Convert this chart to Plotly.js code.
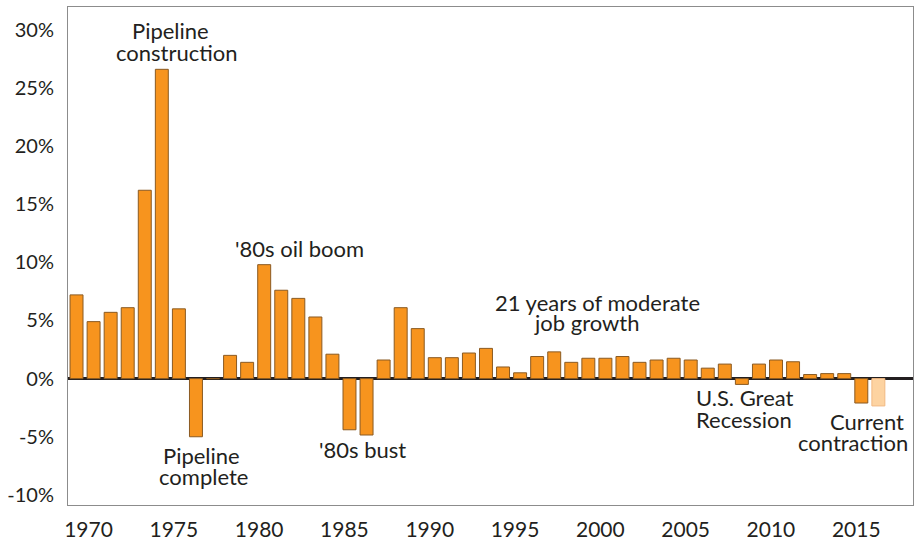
<!DOCTYPE html>
<html>
<head>
<meta charset="utf-8">
<script src="https://cdn.plot.ly/plotly-3.0.1.min.js"></script>
<style>
  html, body { margin: 0; padding: 0; background: #ffffff; }
  #chart { width: 915px; height: 543px; }
</style>
</head>
<body>
<div id="chart"></div>
<script>
// Annual employment growth, 1970-2017 (2017 = forecast)
const years = [1970,1971,1972,1973,1974,1975,1976,1977,1978,1979,
               1980,1981,1982,1983,1984,1985,1986,1987,1988,1989,
               1990,1991,1992,1993,1994,1995,1996,1997,1998,1999,
               2000,2001,2002,2003,2004,2005,2006,2007,2008,2009,
               2010,2011,2012,2013,2014,2015,2016,2017];
const growthPct = [7.2, 4.9, 5.7, 6.1, 16.2, 26.6, 6.0, -5.0, 0.0, 2.0,
                   1.4, 9.8, 7.6, 6.9, 5.3, 2.1, -4.4, -4.85, 1.6, 6.1,
                   4.3, 1.8, 1.8, 2.2, 2.6, 1.0, 0.5, 1.9, 2.3, 1.4,
                   1.75, 1.75, 1.9, 1.4, 1.6, 1.75, 1.6, 0.9, 1.25, -0.5,
                   1.25, 1.6, 1.45, 0.35, 0.43, 0.43, -2.1, -2.35];
const forecastYears = [2017];
const xTickYears = [1970,1975,1980,1985,1990,1995,2000,2005,2010,2015];
const yTickVals = [-10,-5,0,5,10,15,20,25,30];
const yTickText = ['-10%','-5%','0%','5%','10%','15%','20%','25%','30%'];

const fillColors = years.map(y => forecastYears.includes(y) ? '#FDD3A1' : '#F7941E');
const edgeColors = years.map(y => forecastYears.includes(y) ? '#F2B983' : '#8A5A22');

const trace = {
  type: 'bar',
  x: years,
  y: growthPct,
  marker: { color: fillColors, line: { color: edgeColors, width: 1 } },
  hoverinfo: 'x+y'
};

const FONT = 'Lato, "Open Sans", sans-serif';
const ink = '#231F20';
function note(text, x, y) {
  return { text: text, x: x, y: y, xref: 'x', yref: 'y', showarrow: false,
           xanchor: 'center', yanchor: 'middle',
           font: { family: FONT, size: 22, color: ink } };
}

const layout = {
  width: 915, height: 543,
  margin: { l: 68, r: 2, t: 7, b: 38, pad: 0 },
  paper_bgcolor: '#ffffff', plot_bgcolor: '#ffffff',
  showlegend: false,
  bargap: 0.24,
  xaxis: {
    type: 'linear',
    range: [1969.5, 2019.03],
    tickmode: 'array',
    tickvals: xTickYears,
    ticktext: xTickYears.map(String),
    ticks: '',
    ticklabelshift: 12,
    ticklabelstandoff: 6,
    showgrid: false, zeroline: false,
    showline: true, mirror: true, linecolor: '#8C8C8C', linewidth: 1,
    tickfont: { family: FONT, size: 21, color: ink }
  },
  yaxis: {
    range: [-10.87, 31.96],
    tickmode: 'array',
    tickvals: yTickVals,
    ticktext: yTickText,
    ticks: '',
    ticklabelstandoff: 9,
    showgrid: false,
    zeroline: true, zerolinecolor: ink, zerolinewidth: 3,
    showline: true, mirror: true, linecolor: '#8C8C8C', linewidth: 1,
    tickfont: { family: FONT, size: 20, color: ink }
  },
  annotations: [
    note('Pipeline', 1975.50, 29.94),
    note('construction', 1975.91, 28.07),
    note("'80s oil boom", 1983.07, 11.23),
    note('Pipeline', 1977.35, -6.64),
    note('complete', 1977.47, -8.42),
    note("'80s bust", 1986.76, -6.12),
    note('21 years of moderate', 2000.52, 6.57),
    note('job growth', 1999.91, 4.84),
    note('U.S. Great', 2009.2, -1.62),
    note('Recession', 2009.14, -3.54),
    note('Current', 2016.34, -3.68),
    note('contraction', 2015.52, -5.46)
  ]
};

Plotly.newPlot('chart', [trace], layout, { displayModeBar: false, staticPlot: true });
</script>
</body>
</html>
